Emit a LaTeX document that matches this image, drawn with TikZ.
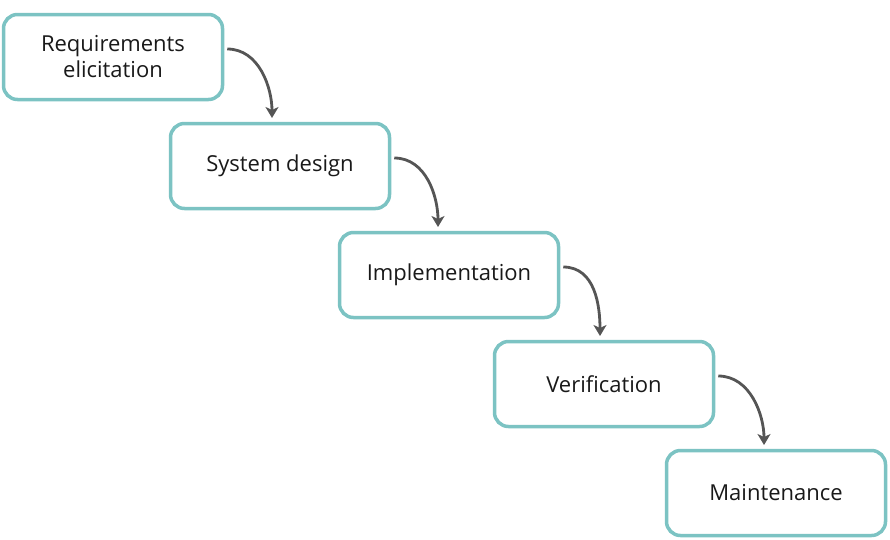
\documentclass[tikz,border=0pt]{standalone}
\usepackage{fontspec}
\setmainfont{Open Sans}
\usetikzlibrary{arrows.meta}
\definecolor{teal}{HTML}{7CC3C3}
\definecolor{arr}{HTML}{555555}
\begin{document}
\begin{tikzpicture}[x=1pt,y=-1pt,
 box/.style={draw=teal,line width=3.5pt,rounded corners=14pt,minimum width=219pt,minimum height=85pt,align=center,font=\fontsize{22}{26}\selectfont,text=black!90},
 ar/.style={draw=arr,line width=2.8pt,-{Stealth[length=11pt,width=13pt,inset=3pt]}}]
\useasboundingbox (0,0) rectangle (890,539);
\node[box] (a) at (113,57) {Requirements\\elicitation};
\node[box] (b) at (280,166) {System design};
\node[box] (c) at (449,275) {Implementation};
\node[box] (d) at (604,384) {Verification};
\node[box] (e) at (776,493) {Maintenance};
\foreach \s/\t/\x/\y in {a/b/272/118, b/c/438/227, c/d/600/336, d/e/764/445}{
 \coordinate (s) at ([yshift=8pt]\s.east);
 \draw[ar] ([xshift=3pt]s) .. controls +(32,0) and +(0,-30) .. (\x,\y);
}
\end{tikzpicture}
\end{document}
